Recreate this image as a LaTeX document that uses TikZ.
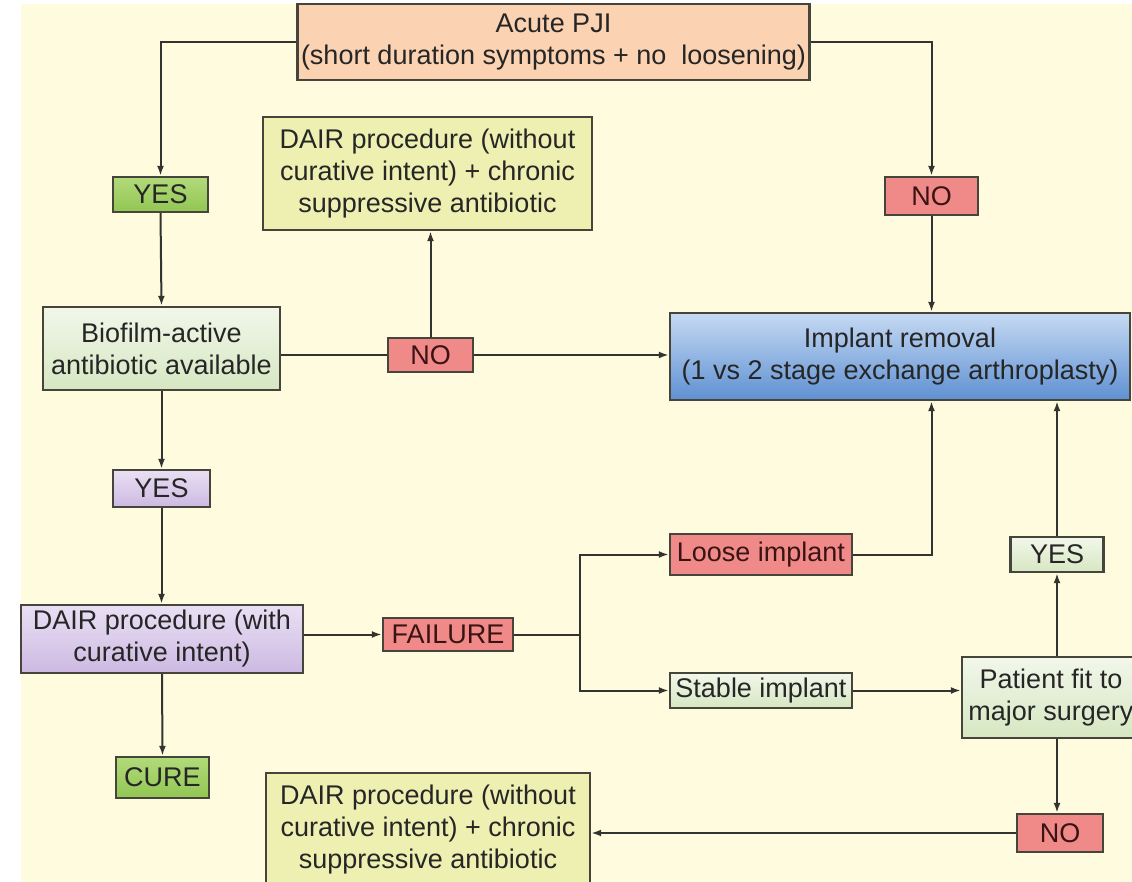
\documentclass[tikz,border=0pt]{standalone}
\usepackage{fontspec}
\setmainfont{Liberation Sans}
\usetikzlibrary{arrows.meta}
\definecolor{bgcream}{HTML}{FEFBDF}
\definecolor{bordercol}{HTML}{45453C}
\definecolor{txt}{HTML}{262626}
\definecolor{redtxt}{HTML}{3A1414}
\definecolor{peach}{HTML}{FBD2B2}
\definecolor{gtop}{HTML}{B2DA7A}
\definecolor{gbot}{HTML}{92C653}
\definecolor{lgtop}{HTML}{F2F7EA}
\definecolor{lgbot}{HTML}{D6E7C2}
\definecolor{redf}{HTML}{F08A88}
\definecolor{yel}{HTML}{EEF0B2}
\definecolor{ptop}{HTML}{E9E0F4}
\definecolor{pbot}{HTML}{CDB9E2}
\definecolor{btop}{HTML}{C6DAF3}
\definecolor{bbot}{HTML}{5E90D2}
\definecolor{arrcol}{HTML}{333330}
\tikzset{
  x=1pt, y=-1pt,
  box/.style={draw=bordercol, line width=2.4pt, align=center, inner sep=0pt,
    text=txt, font=\fontsize{27}{32}\selectfont},
  greenbox/.style={box, top color=gtop, bottom color=gbot},
  lgreenbox/.style={box, top color=lgtop, bottom color=lgbot},
  redbox/.style={box, fill=redf, text=redtxt},
  yelbox/.style={box, fill=yel},
  purpbox/.style={box, top color=ptop, bottom color=pbot},
  bluebox/.style={box, top color=btop, bottom color=bbot},
  peachbox/.style={box, fill=peach},
  conn/.style={draw=arrcol, line width=2pt},
  arr/.style={conn, -{Latex[length=10pt,width=7pt]}},
}
\begin{document}
\begin{tikzpicture}
\clip (0,0) rectangle (1132,882);
\fill[white] (0,0) rectangle (1132,882);
\fill[bgcream] (21,4) rectangle (1132,882);

% nodes
\node[peachbox, minimum width=512, minimum height=76] (acute) at (553.5,42)
  {Acute PJI\\(short duration symptoms + no\ \ loosening)};
\node[greenbox, minimum width=95, minimum height=35] (yes1) at (160.5,194.5) {YES};
\node[yelbox, minimum width=329, minimum height=113] (dair1) at (427.5,173.5)
  {DAIR procedure (without\\curative intent) + chronic\\suppressive antibiotic};
\node[redbox, minimum width=93, minimum height=38] (no1) at (931.5,196) {NO};
\node[lgreenbox, minimum width=237, minimum height=83] (bio) at (161.5,348.5)
  {Biofilm-active\\antibiotic available};
\node[redbox, minimum width=85, minimum height=34] (no2) at (430.5,355) {NO};
\node[bluebox, minimum width=460, minimum height=87] (impl) at (900,356.5)
  {Implant removal\\(1 vs 2 stage exchange arthroplasty)};
\node[purpbox, minimum width=97, minimum height=37] (yes2) at (161.5,488.5) {YES};
\node[purpbox, minimum width=282, minimum height=68] (dair2) at (162,639)
  {DAIR procedure (with\\curative intent)};
\node[redbox, minimum width=130, minimum height=33] (fail) at (448,634.5) {FAILURE};
\node[redbox, minimum width=182, minimum height=41] (loose) at (761,554.5) {Loose implant};
\node[lgreenbox, minimum width=182, minimum height=35] (stable) at (761,690.5) {Stable implant};
\node[lgreenbox, minimum width=178, minimum height=81] (patient) at (1051,697.5)
  {Patient fit to\\major surgery};
\node[lgreenbox, minimum width=93, minimum height=35] (yes3) at (1057,554.5) {YES};
\node[greenbox, minimum width=93, minimum height=41] (cure) at (162.5,777.5) {CURE};
\node[redbox, minimum width=86, minimum height=38] (no3) at (1060,833) {NO};
\node[yelbox, minimum width=324, minimum height=113] (dair3) at (428,829.5)
  {DAIR procedure (without\\curative intent) + chronic\\suppressive antibiotic};

\coordinate (j) at (580,634.5);

% connectors
\draw[arr] (acute.west) -| (yes1.north);
\draw[arr] (yes1.south) -- (bio.north);
\draw[arr] (acute.east) -| (no1.north);
\draw[arr] (no1.south) -- (no1.south |- impl.north);
\draw[conn] (no2.west -| bio.east) -- (no2.west);
\draw[arr] (no2.east) -- (no2.east -| impl.west);
\draw[arr] (no2.north) -- (no2.north |- dair1.south);
\draw[arr] (bio.south) -- (yes2.north);
\draw[arr] (yes2.south) -- (yes2.south |- dair2.north);
\draw[arr] (dair2.east |- fail.west) -- (fail.west);
\draw[arr] (dair2.south) -- (cure.north);
\draw[conn] (fail.east) -- (j);
\draw[arr] (j) |- (loose.west);
\draw[arr] (j) |- (stable.west);
\draw[arr] (loose.east) -| (no1.south |- impl.south);
\draw[arr] (stable.east) -- (stable.east -| patient.west);
\draw[arr] (yes3.south |- patient.north) -- (yes3.south);
\draw[arr] (yes3.north) -- (yes3.north |- impl.south);
\draw[arr] (yes3.south |- patient.south) -- (yes3.south |- no3.north);
\draw[arr] (no3.west) -- (no3.west -| dair3.east);
\end{tikzpicture}
\end{document}
